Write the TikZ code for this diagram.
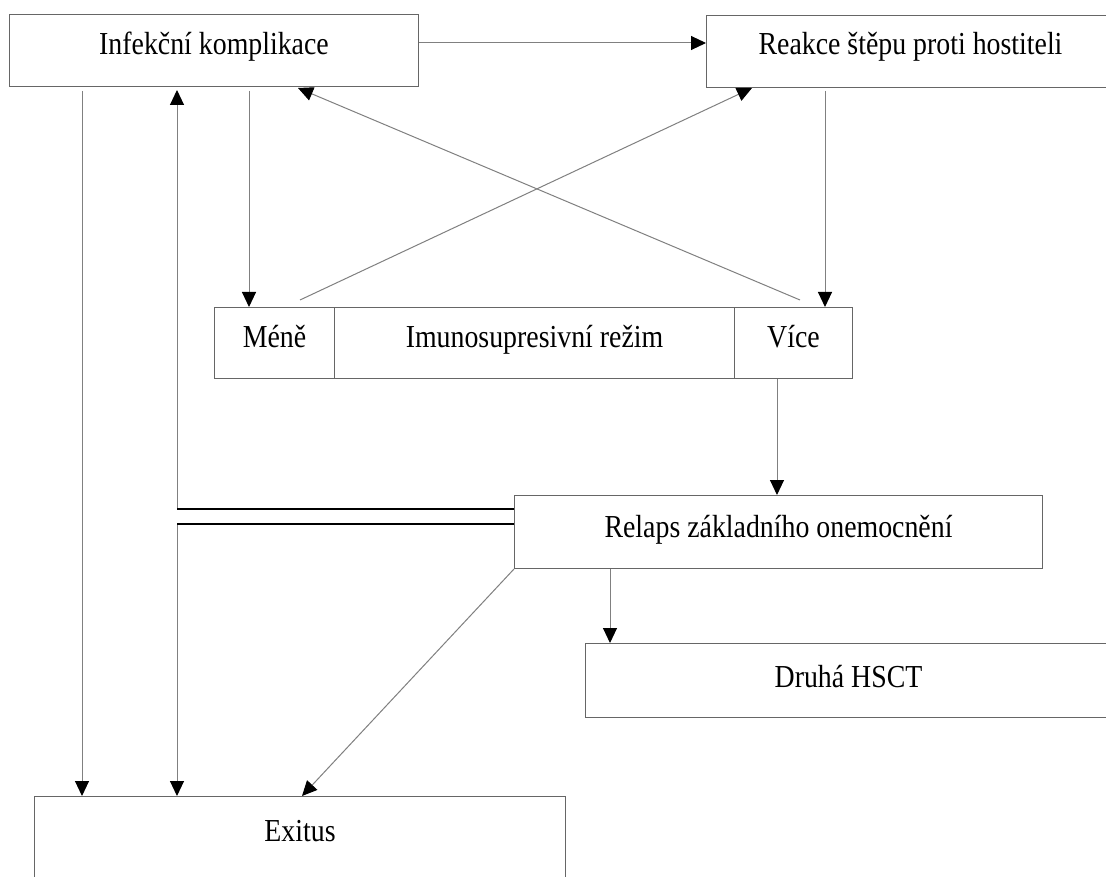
\documentclass[tikz,border=0pt]{standalone}
\usepackage{fontspec}
\setmainfont{Liberation Serif}
\newfontfamily\dfont[FakeStretch=0.87]{Liberation Serif}
\usetikzlibrary{arrows.meta,calc}
\definecolor{boxgray}{gray}{0.4}
\definecolor{linegray}{gray}{0.5}
\begin{document}
\begin{tikzpicture}[x=1pt,y=-1pt,
  box/.style={draw=boxgray, line width=1pt, inner sep=0pt, anchor=north west,
    font=\dfont\fontsize{32}{36}\selectfont},
  conn/.style={draw=linegray, line width=1pt, -{Triangle[length=15pt,width=14pt,color=black]}},
  dbl/.style={draw=black, line width=2pt}]
\clip (0,0) rectangle (1106,877);
\fill[white] (0,0) rectangle (1106,877);
% boxes
\node[box, minimum width=409pt, text height=40pt, text depth=32pt] (inf) at (9,14) {Infekční komplikace};
\node[box, minimum width=408pt, text height=39pt, text depth=33pt] (gvh) at (706,15) {Reakce štěpu proti hostiteli};
\node[box, minimum width=120pt, text height=40pt, text depth=31pt] (mene) at (214,307) {Méně};
\node[box, minimum width=400pt, text height=40pt, text depth=31pt] (imun) at (334,307) {Imunosupresivní režim};
\node[box, minimum width=118pt, text height=40pt, text depth=31pt] (vice) at (734,307) {Více};
\node[box, minimum width=528pt, text height=42pt, text depth=31pt] (relaps) at (514,495) {Relaps základního onemocnění};
\node[box, minimum width=526pt, text height=44pt, text depth=30pt] (druha) at (585,643) {Druhá HSCT};
\node[box, minimum width=531pt, text height=45pt, text depth=51pt] (exitus) at (34,796) {Exitus};
% junction points of the double line
\coordinate (jt) at (177,509);
\coordinate (jb) at (177,524);
% connectors
\draw[conn] ($(inf.north east)+(0,29)$) -- ($(gvh.north west)+(0,28)$);
\draw[conn] ($(inf.south west)+(73,4)$) -- ($(exitus.north west)+(48,0)$);
\draw[conn] (jt) -- ($(inf.south west)+(168,3)$);
\draw[conn] (jb) -- ($(exitus.north west)+(143,0)$);
\draw[dbl] (jt) -- (jt -| relaps.west);
\draw[dbl] (jb) -- (jb -| relaps.west);
\draw[conn] ($(inf.south west)+(240,4)$) -- ($(mene.north west)+(35,0)$);
\draw[conn] ($(vice.north west)+(66,-7)$) -- ($(inf.south west)+(289,1)$);
\draw[conn] ($(mene.north west)+(86,-7)$) -- ($(gvh.south west)+(46,0)$);
\draw[conn] ($(gvh.south west)+(119,3)$) -- ($(vice.north west)+(91,0)$);
\draw[conn] ($(vice.south west)+(43,0)$) -- ($(relaps.north west)+(263,0)$);
\draw[conn] ($(relaps.south west)+(96,0)$) -- ($(druha.north west)+(25,0)$);
\draw[conn] (relaps.south west) -- ($(exitus.north west)+(268,0)$);
\end{tikzpicture}
\end{document}
